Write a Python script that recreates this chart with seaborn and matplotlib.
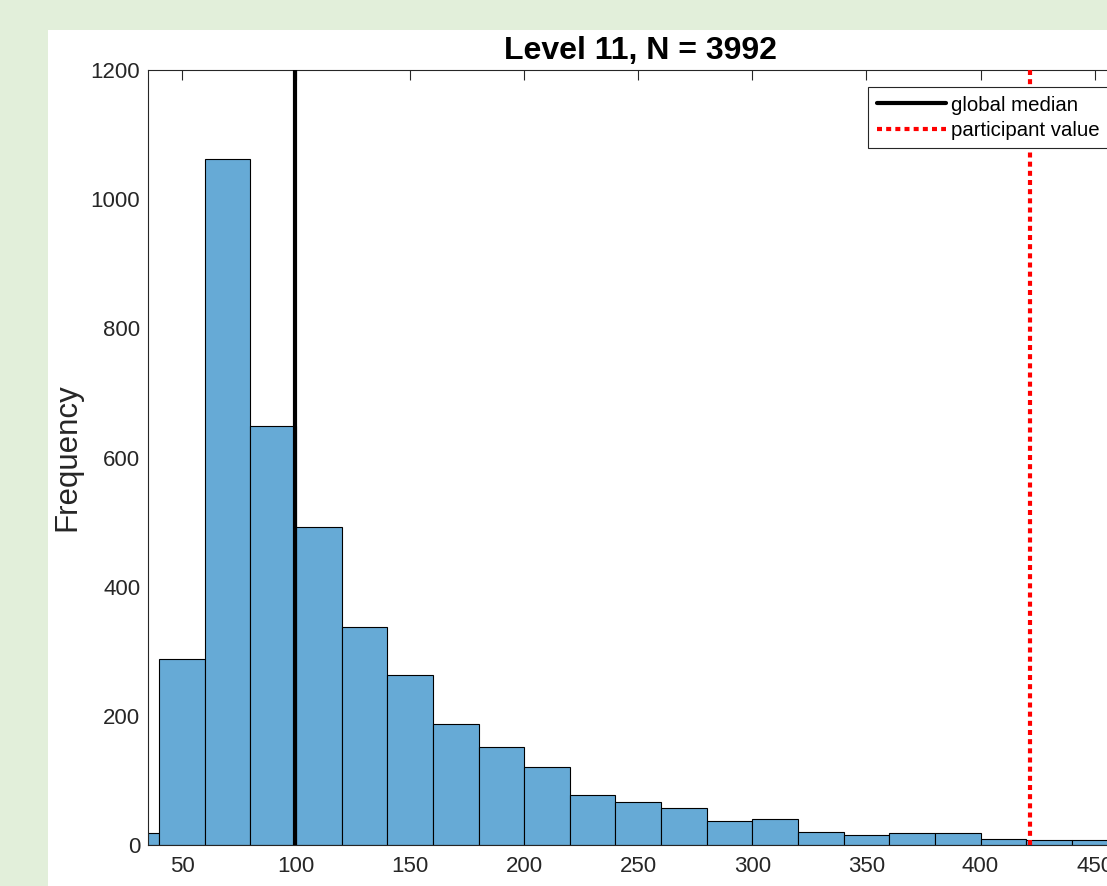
import numpy as np
import pandas as pd
import matplotlib
matplotlib.use("Agg")
import matplotlib.pyplot as plt
from matplotlib.patches import Rectangle
import seaborn as sns

# ---- data ----
bin_edges = [20, 40, 60, 80, 100, 120, 140, 160, 180, 200, 220, 240,
             260, 280, 300, 320, 340, 360, 380, 400, 420, 440, 460]
counts = [18, 288, 1062, 649, 492, 337, 263, 187, 152, 121, 78, 67,
          58, 37, 41, 20, 15, 18, 19, 10, 8, 8]
global_median = 99.4
participant_value = 421.8
title_text = "Level 11, N = 3992"
y_label = "Frequency"
x_ticks = [50, 100, 150, 200, 250, 300, 350, 400, 450]
y_ticks = [0, 200, 400, 600, 800, 1000, 1200]

centers = [(a + b) / 2 for a, b in zip(bin_edges[:-1], bin_edges[1:])]
df = pd.DataFrame({"value": centers, "count": counts})

sns.set_style("white")
plt.rcParams["font.family"] = ["Liberation Sans", "DejaVu Sans"]

W, H = 1107, 886
fig = plt.figure(figsize=(W / 100, H / 100), dpi=100)
fig.patch.set_facecolor("#e2efda")
fig.add_artist(Rectangle((48 / W, 0), 1 - 48 / W, (H - 30) / H,
                         transform=fig.transFigure, facecolor="white",
                         edgecolor="none", zorder=0))

ax_left, ax_right, ax_top, ax_bottom = 148, 1132, 70, 845
ax = fig.add_axes([ax_left / W, (H - ax_bottom) / H,
                   (ax_right - ax_left) / W, (ax_bottom - ax_top) / H])
ax.set_facecolor("white")

sns.histplot(data=df, x="value", weights="count", bins=bin_edges,
             color="#66aad6", alpha=1.0, edgecolor="black", linewidth=0.8,
             ax=ax)

ax.axvline(global_median, color="black", lw=3.0, label="global median", zorder=5)
ax.axvline(participant_value, color="red", lw=3.0, linestyle=(0, (1.2, 1.0)),
           label="participant value", zorder=5)

ax.set_xlim(35.1, 466.4)
ax.set_ylim(0, 1200)
ax.set_xticks(x_ticks)
ax.set_yticks(y_ticks)
ax.set_xlabel("")
ax.set_ylabel(y_label, fontsize=22.5, color="#262626", labelpad=6)
ax.set_title(title_text, fontsize=23, fontweight="bold", color="black", pad=8)

for s in ax.spines.values():
    s.set_visible(True)
    s.set_color("#262626")
    s.set_linewidth(0.8)

ax.tick_params(axis="both", direction="in", length=7.5, width=0.8,
               color="#262626", labelcolor="#262626", labelsize=16,
               top=True, right=True)
ax.tick_params(axis="x", pad=8)
ax.tick_params(axis="y", pad=5.5)

leg = ax.legend(loc="upper left", bbox_to_anchor=(868 / W, 1 - 87 / H),
                bbox_transform=fig.transFigure, fontsize=14.7,
                frameon=True, fancybox=False, framealpha=1.0,
                edgecolor="#262626", borderaxespad=0, borderpad=0.42,
                handlelength=3.4, handletextpad=0.25, labelspacing=0.3)
leg.get_frame().set_linewidth(0.8)
for t in leg.get_texts():
    t.set_color("black")

fig.savefig("out.png", dpi=100)
